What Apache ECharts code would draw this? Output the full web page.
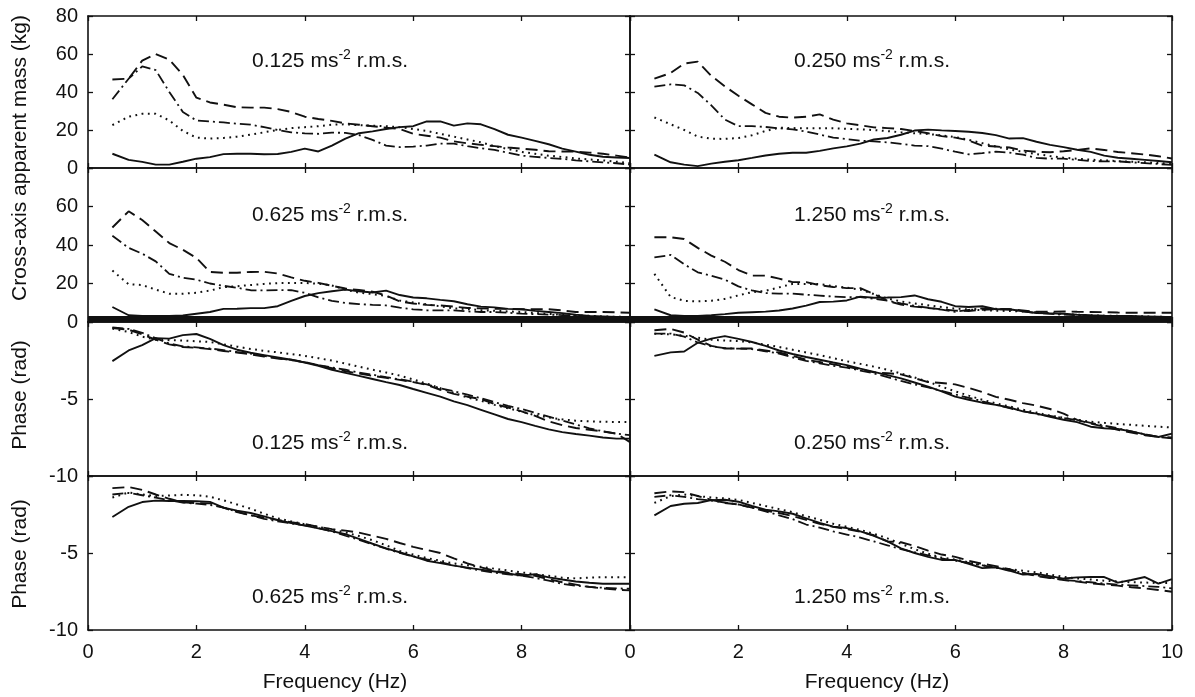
<!DOCTYPE html>
<html><head><meta charset="utf-8">
<script src="https://cdn.jsdelivr.net/npm/echarts@6/dist/echarts.min.js"></script>
<style>html,body{margin:0;padding:0;background:#fff}#c{width:1195px;height:697px}</style>
</head><body><div id="c"></div><script>
// Frequency (Hz)
const freq = [0.45,0.75,1,1.25,1.5,1.75,2,2.25,2.5,2.75,3,3.25,3.5,3.75,4,4.25,4.5,4.75,5,5.25,5.5,5.75,6,6.25,6.5,6.75,7,7.25,7.5,7.75,8,8.25,8.5,8.75,9,9.25,9.5,9.75,10];

// Cross-axis apparent mass (kg), 0.125 ms-2
const mass0125Solid   = [7.5,4.3,3.2,1.8,1.8,3.3,4.9,5.7,7.3,7.5,7.5,7.2,7.4,8.5,10.2,8.7,11.8,15.5,18.3,19.3,20.5,21.5,22,24.5,24.5,22.3,23.5,23,20.5,17.5,16,14.3,12.5,10.2,8.6,7,5.9,5.5,5.3];
const mass0125Dashed  = [46.6,47,56.5,60,57,49,37,34.5,33.3,32,31.8,31.8,31,29.5,27,25.8,24.8,23.5,22.8,22,21.2,20.5,18,17,16,14,13,12.2,11.5,10.8,10.2,9.6,8.8,8.7,8.6,8.1,7.5,6.5,5.5];
const mass0125DashDot = [36.2,47,53.5,51.5,40,29.5,25,24.5,24,23.3,22.8,21.5,20,18.8,18.2,18,18.6,18.5,17.3,14.8,11.8,11,11.3,11.8,12.8,12.8,11.5,10.4,9.5,8,6.5,5.9,5.3,4.8,4,3.5,3,2.5,1.8];
const mass0125Dotted  = [22.6,27,28.5,28.5,25,19.5,16,15.5,15.8,16.5,17.5,18.8,20,21,21.5,22,22.8,23,22.5,22.3,22,21.5,20.5,19.5,18,16.5,15,13.5,11.5,10,8.5,7.5,6.5,5.8,5,4.5,4,3.3,2.5];
// 0.250 ms-2
const mass0250Solid   = [7,3,1.8,1,2.3,3.3,4.1,5.3,6.6,7.5,8,8,9,10.3,11.4,12.8,15,15.8,17.5,19.7,20.2,19.8,19.5,19.1,18.4,17.3,15.5,15.7,13.8,12.2,11,9.6,8.5,6.5,5.4,4.9,4.3,3.7,3];
const mass0250Dashed  = [47,50,55,56,48.5,43,38,33.5,29,27,26.5,27,28.2,25.5,23.5,22.5,21.4,21,20.5,19.5,18.3,16.8,16,14.5,11.8,11.3,10.8,9.2,8.5,8.3,8.8,9.5,10.3,9.5,8.4,7.8,7.1,6.2,5];
const mass0250DashDot = [42.8,44,43.5,39.5,33,25.5,22,22,21.6,20.9,20.3,19.2,17.6,16,15.2,14.4,14,13.5,12.7,11.8,11.5,10.2,8.6,7.2,7.8,8.6,8.1,7,5.3,4.9,4.9,4.3,3.6,3.5,3.5,3,2.6,2.1,1.6];
const mass0250Dotted  = [26.6,23,20,16.5,15.4,15.3,15.8,17.2,19.5,21.2,21,20.9,20.9,20.9,20.6,20.3,20,19.4,18.8,18.3,17.9,17.2,16.3,14.8,13.1,11.3,9.8,8.5,7.3,6.3,5.4,4.9,4.4,4,3.6,3.3,3,2.6,2.2];
// 0.625 ms-2
const mass0625Solid   = [7.8,3.5,3.1,3.1,3.1,3.4,4.3,5.2,6.8,6.9,7.2,7.2,8.2,11,13.5,15,16,16.8,16,15.3,16.3,14,12.7,12.3,11.5,10.8,9.2,8,7.6,6.8,6.6,5.8,5.2,4.6,3.8,3.2,2.9,2.6,2.5];
const mass0625Dashed  = [49.1,57.5,53,47,41,37.5,33.3,26,25.6,25.6,26,26.1,25.2,23.2,21.4,20.3,18.8,17.4,16.6,15.8,13.7,10.7,9.6,8.9,8.6,8,7.3,7.1,6.9,6.8,6.6,6.6,6.6,6,5.2,5.2,5.2,5,4.8];
const mass0625DashDot = [44.8,38.5,35.5,31.5,25,23,22,20,18.8,17.8,16.5,16.4,16.6,16.5,15.2,12.8,11,9.9,9.3,8.9,8.6,7.5,6.6,6.1,6,6,5.5,5.2,5.2,4.8,4.3,4.1,3.8,3.6,3.4,3,2.6,2.4,2.1];
const mass0625Dotted  = [26.7,19.6,19.2,16.8,14.7,14.7,15.2,16.3,18.1,18.6,19.2,19.8,20.2,20.3,20.3,19.9,19,16.8,15.2,14.5,13.5,11.2,10.1,9.2,8.1,7.1,6.7,6.2,5.8,5.5,5.2,4.7,4.2,3.7,3.4,3.2,2.9,2.7,2.6];
// 1.250 ms-2
const mass1250Solid   = [6.6,3.5,3.2,3.1,3.5,4.1,4.8,5.1,5.4,6,7,8.5,10.4,10.6,11.2,13.2,12.6,12.7,12.9,13.8,11.8,10.5,8.2,7.8,8.2,6.6,6.6,5.6,4.7,4.5,4.3,3.8,3.5,3.3,3.2,3.1,2.9,2.7,2.5];
const mass1250Dashed  = [44,44,43.1,38.5,34.5,31.3,27,24.1,24.1,22.5,20.7,20.7,19.1,18.2,17.6,17.6,14.5,11,9,8,7.3,6.6,5.9,5.7,6.3,6.6,6.6,6,5.3,5.3,5.5,5.3,5.2,5.1,4.9,4.8,4.8,4.8,4.8];
const mass1250DashDot = [33.6,34.8,30,25.8,24,22,18.5,16.4,15,14.7,14.7,14.2,13.7,13.2,12.9,12.9,12,11.1,9.7,8.4,7.4,6.4,5.3,6.3,7.1,6.9,6.5,5.5,4.7,4.2,3.8,3.5,3.1,2.9,2.7,2.6,2.4,2.2,2.1];
const mass1250Dotted  = [25,13,11,10.7,11,12,13.8,15.5,16.2,18,19.8,19.8,19.7,18.7,17.8,16.8,14.5,12.2,10.7,9.6,8.7,7.8,7,6.5,6.1,5.9,5.7,5.5,5,4.6,4.2,3.8,3.5,3.3,3.2,3.1,2.9,2.7,2.6];

// Phase (rad)
const phase0125Solid   = [-2.54,-1.85,-1.5,-1.05,-1.08,-0.85,-0.78,-1.1,-1.5,-1.8,-2.0,-2.15,-2.3,-2.45,-2.63,-2.85,-3.1,-3.3,-3.5,-3.7,-3.9,-4.09,-4.35,-4.6,-4.85,-5.15,-5.4,-5.7,-6.0,-6.3,-6.5,-6.75,-6.97,-7.15,-7.27,-7.38,-7.5,-7.57,-7.57];
const phase0125Dashed  = [-0.39,-0.5,-0.8,-1.15,-1.45,-1.62,-1.68,-1.76,-1.88,-1.98,-2.1,-2.24,-2.38,-2.45,-2.6,-2.8,-3.0,-3.2,-3.35,-3.5,-3.62,-3.76,-3.9,-4.08,-4.4,-4.67,-4.85,-5.0,-5.33,-5.55,-5.8,-6.1,-6.45,-6.7,-6.88,-7.0,-7.1,-7.25,-7.8];
const phase0125DashDot = [-0.35,-0.45,-0.7,-1.05,-1.4,-1.58,-1.65,-1.72,-1.82,-1.95,-2.05,-2.2,-2.35,-2.48,-2.62,-2.8,-2.95,-3.1,-3.28,-3.42,-3.58,-3.72,-3.88,-4.05,-4.3,-4.5,-4.72,-4.95,-5.2,-5.45,-5.65,-5.9,-6.15,-6.4,-6.65,-6.9,-7.1,-7.25,-7.35];
const phase0125Dotted  = [-0.43,-0.65,-0.95,-1.15,-1.18,-1.2,-1.25,-1.3,-1.45,-1.6,-1.75,-1.87,-1.97,-2.08,-2.2,-2.35,-2.5,-2.7,-2.9,-3.1,-3.28,-3.48,-3.73,-4.0,-4.3,-4.6,-4.9,-5.12,-5.38,-5.6,-5.82,-6.05,-6.2,-6.32,-6.41,-6.45,-6.48,-6.49,-6.5];
const phase0250Solid   = [-2.2,-1.97,-1.92,-1.35,-1.08,-0.92,-1.1,-1.3,-1.55,-1.85,-2.08,-2.27,-2.45,-2.63,-2.8,-3.03,-3.24,-3.45,-3.66,-3.93,-4.2,-4.5,-4.85,-5.05,-5.24,-5.38,-5.55,-5.8,-5.95,-6.15,-6.35,-6.5,-6.8,-6.9,-6.95,-7.1,-7.3,-7.47,-7.25];
const phase0250Dashed  = [-0.54,-0.45,-0.69,-1.15,-1.55,-1.72,-1.72,-1.72,-1.85,-1.98,-2.2,-2.45,-2.6,-2.75,-2.9,-3.08,-3.27,-3.33,-3.4,-3.65,-3.9,-3.96,-4.05,-4.28,-4.55,-4.86,-5.05,-5.27,-5.43,-5.65,-5.95,-6.35,-6.6,-6.8,-7.0,-7.18,-7.35,-7.47,-7.55];
const phase0250DashDot = [-0.75,-0.75,-0.95,-1.33,-1.58,-1.7,-1.73,-1.76,-1.9,-2.05,-2.3,-2.53,-2.68,-2.85,-2.96,-3.15,-3.34,-3.58,-3.83,-4.05,-4.25,-4.48,-4.71,-4.92,-5.15,-5.37,-5.6,-5.78,-5.98,-6.1,-6.24,-6.37,-6.55,-6.72,-6.9,-7.1,-7.3,-7.45,-7.5];
const phase0250Dotted  = [-0.76,-0.8,-0.9,-1.02,-1.15,-1.2,-1.24,-1.32,-1.48,-1.62,-1.8,-1.98,-2.15,-2.35,-2.55,-2.72,-2.9,-3.1,-3.35,-3.6,-3.88,-4.2,-4.5,-4.78,-5.05,-5.28,-5.48,-5.7,-5.88,-6.08,-6.22,-6.35,-6.47,-6.55,-6.62,-6.68,-6.74,-6.8,-6.85];
const phase0625Solid   = [-2.66,-2.0,-1.69,-1.6,-1.62,-1.62,-1.64,-1.68,-2.05,-2.25,-2.4,-2.62,-2.87,-3.05,-3.22,-3.4,-3.58,-3.78,-4.08,-4.4,-4.7,-4.95,-5.22,-5.5,-5.66,-5.82,-5.95,-6.08,-6.2,-6.33,-6.47,-6.38,-6.58,-6.72,-6.85,-6.93,-7.0,-7.0,-7.0];
const phase0625Dashed  = [-0.79,-0.72,-0.9,-1.2,-1.48,-1.7,-1.76,-1.78,-2.05,-2.35,-2.55,-2.7,-2.85,-3.0,-3.12,-3.3,-3.45,-3.55,-3.68,-3.88,-4.08,-4.35,-4.6,-4.8,-5.0,-5.35,-5.68,-5.93,-6.15,-6.28,-6.38,-6.48,-6.7,-6.9,-7.05,-7.2,-7.3,-7.38,-7.43];
const phase0625DashDot = [-1.2,-1.1,-1.25,-1.4,-1.58,-1.72,-1.8,-1.88,-2.05,-2.32,-2.55,-2.78,-2.95,-3.08,-3.2,-3.38,-3.6,-3.88,-4.15,-4.45,-4.72,-5.0,-5.22,-5.42,-5.6,-5.8,-5.98,-6.15,-6.28,-6.38,-6.48,-6.62,-6.8,-7.0,-7.12,-7.2,-7.26,-7.3,-7.32];
const phase0625Dotted  = [-1.4,-1.07,-1.2,-1.3,-1.27,-1.22,-1.25,-1.35,-1.58,-1.85,-2.12,-2.45,-2.75,-2.95,-3.13,-3.3,-3.48,-3.66,-3.9,-4.17,-4.5,-4.86,-5.1,-5.33,-5.5,-5.68,-5.8,-5.9,-6.02,-6.14,-6.26,-6.37,-6.48,-6.6,-6.65,-6.6,-6.57,-6.57,-6.57];
const phase1250Solid   = [-2.56,-1.95,-1.8,-1.75,-1.57,-1.54,-1.67,-1.95,-2.18,-2.3,-2.45,-2.75,-3.05,-3.29,-3.38,-3.6,-3.88,-4.25,-4.7,-5.0,-5.25,-5.45,-5.45,-5.7,-5.98,-5.93,-6.15,-6.4,-6.36,-6.5,-6.66,-6.58,-6.56,-6.56,-6.92,-6.75,-6.56,-6.99,-6.7];
const phase1250Dashed  = [-1.12,-1.0,-1.05,-1.3,-1.55,-1.75,-1.85,-2.05,-2.25,-2.4,-2.6,-2.85,-3.1,-3.3,-3.45,-3.62,-3.85,-4.25,-4.3,-4.55,-4.85,-5.1,-5.25,-5.5,-5.7,-5.85,-6.05,-6.3,-6.5,-6.62,-6.75,-6.85,-6.97,-7.05,-7.12,-7.22,-7.3,-7.4,-7.52];
const phase1250DashDot = [-1.35,-1.25,-1.35,-1.5,-1.6,-1.72,-1.85,-2.05,-2.3,-2.55,-2.8,-3.15,-3.35,-3.6,-3.8,-4.0,-4.25,-4.5,-4.75,-4.95,-5.15,-5.35,-5.5,-5.65,-5.8,-5.95,-6.1,-6.3,-6.45,-6.6,-6.75,-6.82,-6.9,-6.98,-7.05,-7.1,-7.15,-7.2,-7.3];
const phase1250Dotted  = [-1.75,-1.3,-1.2,-1.3,-1.4,-1.45,-1.55,-1.75,-1.95,-2.15,-2.35,-2.6,-2.85,-3.1,-3.3,-3.5,-3.75,-4.05,-4.4,-4.75,-5.05,-5.3,-5.42,-5.6,-5.8,-5.95,-6.05,-6.15,-6.25,-6.4,-6.55,-6.65,-6.72,-6.8,-6.85,-6.9,-6.92,-6.95,-6.95];

// Tick / axis text
const massTicks = {min: 0, max: 80, interval: 20};
const phaseTicks = {min: -10, max: 0, interval: 5};
const panelLabels = ['0.125', '0.250', '0.625', '1.250', '0.125', '0.250', '0.625', '1.250'];

// ---- layout & style ----
const FONT = '"Liberation Sans", Arial, Helvetica, sans-serif';
const INK = '#111';
const COL_LEFT = [88, 630], COL_W = 542;
const ROW_TOP = [16, 168, 322, 476], ROW_H = [152, 154, 154, 154];
const LABEL_Y = [60, 214, 442, 596];
const DASH = ['solid', [12, 6], [11, 4, 2, 4], [1.8, 4.5]];
const WIDTH = [1.9, 1.9, 1.8, 2.0];

const panels = [
  {row:0, col:0, sets:[mass0125Solid, mass0125Dashed, mass0125DashDot, mass0125Dotted]},
  {row:0, col:1, sets:[mass0250Solid, mass0250Dashed, mass0250DashDot, mass0250Dotted]},
  {row:1, col:0, sets:[mass0625Solid, mass0625Dashed, mass0625DashDot, mass0625Dotted]},
  {row:1, col:1, sets:[mass1250Solid, mass1250Dashed, mass1250DashDot, mass1250Dotted]},
  {row:2, col:0, sets:[phase0125Solid, phase0125Dashed, phase0125DashDot, phase0125Dotted]},
  {row:2, col:1, sets:[phase0250Solid, phase0250Dashed, phase0250DashDot, phase0250Dotted]},
  {row:3, col:0, sets:[phase0625Solid, phase0625Dashed, phase0625DashDot, phase0625Dotted]},
  {row:3, col:1, sets:[phase1250Solid, phase1250Dashed, phase1250DashDot, phase1250Dotted]}
];

const lineStyle = {color: INK, width: 1.6};
const tickStyle = {inside: true, length: 5, lineStyle: {color: INK, width: 1.3}};
const grids = [], xAxes = [], yAxes = [], series = [], graphics = [];

function hideY(row, v) {
  if (row === 1 && v === 80) return true;
  if (row >= 2 && v === 0) return true;
  return false;
}

panels.forEach((p, gi) => {
  const {row, col} = p;
  grids.push({left: COL_LEFT[col], top: ROW_TOP[row], width: COL_W, height: ROW_H[row], show: false});
  xAxes.push({
    gridIndex: gi, type: 'value', min: 0, max: 10, interval: 2, position: 'bottom',
    axisLine: {onZero: false, lineStyle}, axisTick: tickStyle,
    axisLabel: {show: row === 3, margin: 12, fontSize: 20, color: INK, fontFamily: FONT,
      showMinLabel: true, showMaxLabel: true,
      formatter: v => (col === 0 && v === 10) ? '' : String(v)},
    splitLine: {show: false}
  });
  xAxes.push({
    gridIndex: gi, type: 'value', min: 0, max: 10, interval: 2, position: 'top',
    axisLine: {onZero: false, lineStyle}, axisTick: tickStyle,
    axisLabel: {show: false}, splitLine: {show: false}
  });
  const t = row < 2 ? massTicks : phaseTicks;
  yAxes.push({
    gridIndex: gi, type: 'value', min: t.min, max: t.max, interval: t.interval, position: 'left',
    axisLine: {onZero: false, lineStyle}, axisTick: tickStyle,
    axisLabel: {show: col === 0, margin: 10, fontSize: 20, color: INK, fontFamily: FONT,
      showMinLabel: true, showMaxLabel: true,
      formatter: v => hideY(row, v) ? '' : String(v)},
    splitLine: {show: false}
  });
  yAxes.push({
    gridIndex: gi, type: 'value', min: t.min, max: t.max, interval: t.interval, position: 'right',
    axisLine: {onZero: false, lineStyle}, axisTick: tickStyle,
    axisLabel: {show: false}, splitLine: {show: false}
  });
  p.sets.forEach((arr, si) => {
    series.push({
      type: 'line', xAxisIndex: 2 * gi, yAxisIndex: 2 * gi,
      data: freq.map((f, i) => [f, arr[i]]),
      showSymbol: false, symbol: 'none', silent: true, clip: true,
      lineStyle: {color: INK, width: WIDTH[si], type: DASH[si]}
    });
  });
  graphics.push({
    type: 'text', x: COL_LEFT[col] + 164, y: LABEL_Y[row], z: 50,
    style: {
      text: '{n|' + panelLabels[gi] + ' ms}{s|-2}{n| r.m.s.}',
      align: 'left', verticalAlign: 'middle',
      rich: {
        n: {fontSize: 21, fontFamily: FONT, fill: INK, lineHeight: 24, verticalAlign: 'bottom'},
        s: {fontSize: 14, fontFamily: FONT, fill: INK, lineHeight: 14, verticalAlign: 'top'}
      }
    }
  });
});

// thick separator between the mass and phase blocks
graphics.push({type: 'rect', z: 60, shape: {x: 88, y: 316, width: 1084, height: 6}, style: {fill: INK}});
// axis titles
const titleStyle = {fontSize: 21, fontFamily: FONT, fill: INK, align: 'center', verticalAlign: 'middle'};
graphics.push({type: 'text', x: 20, y: 158, rotation: Math.PI / 2, style: Object.assign({text: 'Cross-axis apparent mass (kg)'}, titleStyle)});
graphics.push({type: 'text', x: 20, y: 395, rotation: Math.PI / 2, style: Object.assign({text: 'Phase (rad)'}, titleStyle)});
graphics.push({type: 'text', x: 20, y: 554, rotation: Math.PI / 2, style: Object.assign({text: 'Phase (rad)'}, titleStyle)});
graphics.push({type: 'text', x: 335, y: 682, style: Object.assign({text: 'Frequency (Hz)'}, titleStyle)});
graphics.push({type: 'text', x: 877, y: 682, style: Object.assign({text: 'Frequency (Hz)'}, titleStyle)});

const chart = echarts.init(document.getElementById('c'), null, {renderer: 'canvas'});
chart.setOption({
  animation: false,
  backgroundColor: '#fff',
  grid: grids, xAxis: xAxes, yAxis: yAxes, series: series,
  graphic: graphics
});
</script></body></html>
